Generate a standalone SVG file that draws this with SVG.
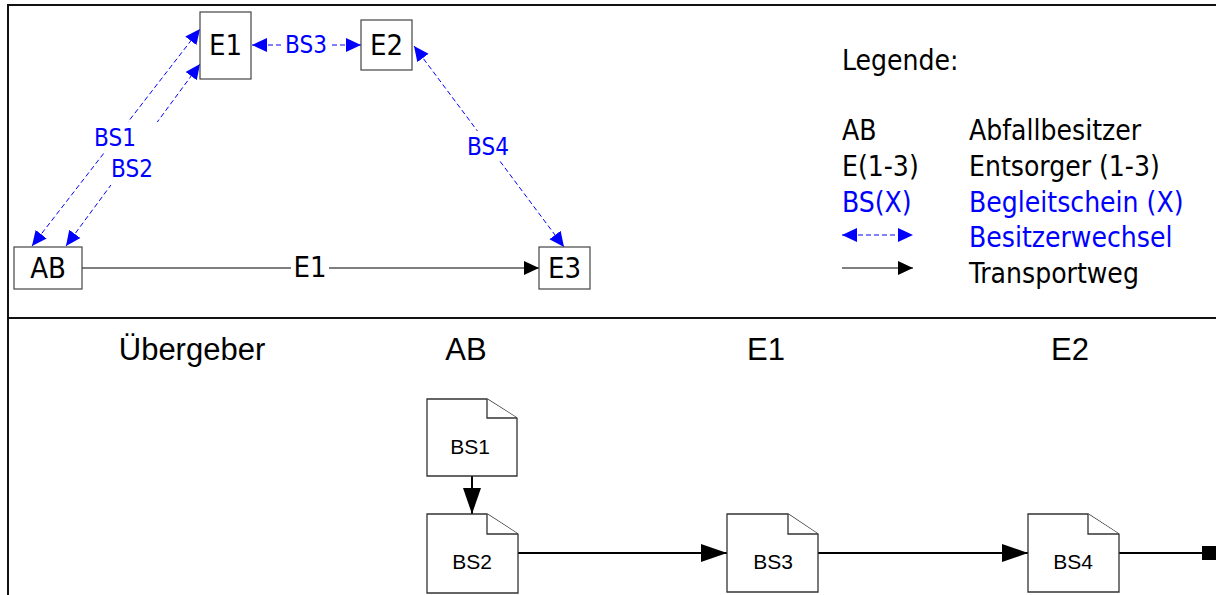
<svg xmlns="http://www.w3.org/2000/svg" width="1216" height="595" viewBox="0 0 1216 595">
  <style>
    .frame { stroke: #111; stroke-width: 2; fill: none; }
    .box { fill: #fff; stroke: #444; stroke-width: 1.2; }
    .ntext { font-family: "DejaVu Sans Condensed", "DejaVu Sans", sans-serif; font-stretch: condensed; font-size: 29px; fill: #000; text-anchor: middle; }
    .lbl { font-family: "DejaVu Sans Condensed", "DejaVu Sans", sans-serif; font-stretch: condensed; font-size: 24px; fill: #0000ff; text-anchor: middle; }
    .leg { font-family: "DejaVu Sans Condensed", "DejaVu Sans", sans-serif; font-stretch: condensed; font-size: 28px; fill: #000; }
    .blue { fill: #0000ff; }
    .owner { stroke: #0000ff; stroke-width: 1; fill: none; stroke-dasharray: 5 3; marker-start: url(#ab); marker-end: url(#ab); }
    .transport { stroke: #000; stroke-width: 1.2; fill: none; marker-end: url(#ak); }
    .flow { stroke: #000; stroke-width: 2; fill: none; }
    .doc { fill: #fff; stroke: #333; stroke-width: 1.3; }
    .head { font-family: "Liberation Sans", Arial, sans-serif; font-size: 31px; fill: #000; text-anchor: middle; }
    .dtext { font-family: "Liberation Sans", Arial, sans-serif; font-size: 21px; fill: #000; text-anchor: middle; }
    .bg { fill: #fff; }
  </style>
  <defs>
    <marker id="ab" markerUnits="userSpaceOnUse" markerWidth="16" markerHeight="15" refX="15" refY="7" orient="auto-start-reverse">
      <path d="M0,0 L15,7 L0,14 z" fill="#0000ff"/>
    </marker>
    <marker id="ak" markerUnits="userSpaceOnUse" markerWidth="16" markerHeight="15" refX="15" refY="7" orient="auto">
      <path d="M0,0 L15,7 L0,14 z" fill="#000"/>
    </marker>
    <marker id="big" markerUnits="userSpaceOnUse" markerWidth="27" markerHeight="19" refX="26" refY="9" orient="auto">
      <path d="M0,0 L26,9 L0,18 z" fill="#000"/>
    </marker>
  </defs>

  <!-- frame -->
  <g id="frame">
    <line class="frame" x1="7" y1="5" x2="1216" y2="5"/>
    <line class="frame" x1="8" y1="4" x2="8" y2="595"/>
    <line class="frame" x1="8" y1="318" x2="1216" y2="318"/>
  </g>

  <!-- connectors -->
  <g id="connectors">
    <line class="owner" x1="32" y1="246" x2="200" y2="29"/>
    <line class="owner" x1="66" y1="246" x2="200" y2="64"/>
    <line class="owner" x1="252" y1="45" x2="361" y2="45" stroke-dasharray="6 3 2 3"/>
    <line class="owner" x1="414" y1="46" x2="564" y2="247"/>
    <line class="transport" x1="82" y1="268" x2="539" y2="268"/>

    <rect class="bg" x="90" y="122" width="68" height="30"/>
    <text class="lbl" x="115" y="146">BS1</text>
    <rect class="bg" x="106" y="152" width="52" height="33"/>
    <text class="lbl" x="132" y="177">BS2</text>
    <rect class="bg" x="282" y="32" width="48" height="26"/>
    <text class="lbl" x="306" y="53">BS3</text>
    <rect class="bg" x="462" y="131" width="53" height="30"/>
    <text class="lbl" x="488" y="155">BS4</text>
    <rect class="bg" x="291" y="255" width="38" height="26"/>
    <text class="ntext" x="310" y="277">E1</text>

    <!-- document flow -->
    <line class="flow" x1="472" y1="476" x2="472" y2="514" marker-end="url(#big)"/>
    <line class="flow" x1="518" y1="553" x2="727" y2="553" marker-end="url(#big)"/>
    <line class="flow" x1="818" y1="553" x2="1028" y2="553" marker-end="url(#big)"/>
    <line class="flow" x1="1119" y1="553" x2="1205" y2="553"/>
    <rect x="1202" y="546" width="14" height="14" fill="#000"/>
  </g>

  <!-- actors -->
  <g id="node-E1">
    <rect class="box" x="200" y="12" width="51" height="67"/>
    <text class="ntext" x="225.5" y="55">E1</text>
  </g>
  <g id="node-E2">
    <rect class="box" x="361" y="20" width="51" height="50"/>
    <text class="ntext" x="386.5" y="55">E2</text>
  </g>
  <g id="node-AB">
    <rect class="box" x="14" y="247" width="68" height="42"/>
    <text class="ntext" x="48" y="278">AB</text>
  </g>
  <g id="node-E3">
    <rect class="box" x="539" y="247" width="51" height="42"/>
    <text class="ntext" x="564.5" y="278">E3</text>
  </g>

  <!-- legend -->
  <g id="legend">
    <text class="leg" x="842" y="70">Legende:</text>
    <text class="leg" x="842" y="140">AB</text>
    <text class="leg" x="969" y="140">Abfallbesitzer</text>
    <text class="leg" x="842" y="176">E(1-3)</text>
    <text class="leg" x="969" y="176">Entsorger (1-3)</text>
    <text class="leg blue" x="842" y="212">BS(X)</text>
    <text class="leg blue" x="969" y="212">Begleitschein (X)</text>
    <line class="owner" x1="842" y1="235" x2="913" y2="235" stroke-dasharray="4 3"/>
    <text class="leg blue" x="969" y="247">Besitzerwechsel</text>
    <line class="transport" x1="842" y1="268" x2="913" y2="268"/>
    <text class="leg" x="969" y="283">Transportweg</text>
  </g>

  <!-- lane headers -->
  <g id="headers">
    <text class="head" x="192" y="360">Übergeber</text>
    <text class="head" x="466" y="360">AB</text>
    <text class="head" x="766" y="360">E1</text>
    <text class="head" x="1070" y="360">E2</text>
  </g>

  <!-- documents -->
  <g id="doc-BS1">
    <path class="doc" d="M427,399 H487 L517,418 V476 H427 Z"/>
    <path class="doc" d="M487,399 V418 H517" fill="none"/>
    <text class="dtext" x="470" y="454">BS1</text>
  </g>
  <g id="doc-BS2">
    <path class="doc" d="M427,514 H487 L518,534 V593 H427 Z"/>
    <path class="doc" d="M487,514 V534 H518" fill="none"/>
    <text class="dtext" x="472" y="569">BS2</text>
  </g>
  <g id="doc-BS3">
    <path class="doc" d="M727,514 H788 L818,534 V592 H727 Z"/>
    <path class="doc" d="M788,514 V534 H818" fill="none"/>
    <text class="dtext" x="773" y="569">BS3</text>
  </g>
  <g id="doc-BS4">
    <path class="doc" d="M1028,514 H1088 L1119,534 V592 H1028 Z"/>
    <path class="doc" d="M1088,514 V534 H1119" fill="none"/>
    <text class="dtext" x="1073" y="569">BS4</text>
  </g>
</svg>
